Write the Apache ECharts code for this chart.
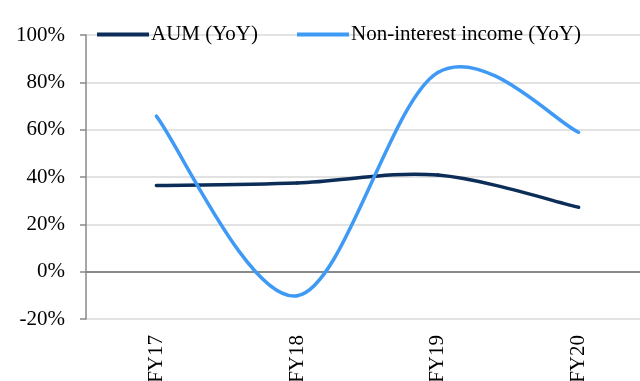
<!DOCTYPE html>
<html>
<head>
<meta charset="utf-8">
<script src="https://cdn.jsdelivr.net/npm/echarts@6/dist/echarts.min.js"></script>
<style>
  html, body { margin: 0; padding: 0; background: #fff; }
  #chart { width: 640px; height: 381px; }
</style>
</head>
<body>
<div id="chart"></div>
<script>
// Fiscal years on the category axis
const categories = ['FY17', 'FY18', 'FY19', 'FY20'];
// Year-on-year growth, in percent
const aumYoY = [36.4, 37.5, 40.8, 27.2];
const nonInterestYoY = [65.7, -10.2, 84.2, 58.9];
// Value axis range and step
const yMin = -20;
const yMax = 100;
const yStep = 20;

const font = '"Liberation Serif", "DejaVu Serif", serif';
const navy = '#0c2d58';
const sky = '#3f9af5';
const chart = echarts.init(document.getElementById('chart'));

// Smoothed line drawn as Catmull-Rom style cubic segments between
// neighbouring points; each data item draws the segment to the next one.
function smoothLineSeries(name, values, color) {
  return {
    name: name,
    type: 'custom',
    coordinateSystem: 'cartesian2d',
    xAxisIndex: 0,
    itemStyle: { color: color },
    encode: { x: 0, y: 1 },
    data: values.map((v, i) => [i, v]),
    renderItem: function (params, api) {
      const i = params.dataIndex;
      const n = values.length;
      if (i >= n - 1) return null;
      const pt = k => api.coord([Math.min(Math.max(k, 0), n - 1), values[Math.min(Math.max(k, 0), n - 1)]]);
      const p0 = pt(i - 1), p1 = pt(i), p2 = pt(i + 1), p3 = pt(i + 2);
      const t = 1 / 6;
      return {
        type: 'bezierCurve',
        shape: {
          x1: p1[0], y1: p1[1],
          x2: p2[0], y2: p2[1],
          cpx1: p1[0] + (p2[0] - p0[0]) * t,
          cpy1: p1[1] + (p2[1] - p0[1]) * t,
          cpx2: p2[0] - (p3[0] - p1[0]) * t,
          cpy2: p2[1] - (p3[1] - p1[1]) * t
        },
        style: { stroke: color, fill: null, lineWidth: 3.5, lineCap: 'round' }
      };
    }
  };
}

const legendBase = {
  top: 19,
  itemWidth: 52,
  itemHeight: 4,
  icon: 'rect',
  textStyle: { fontFamily: font, fontSize: 21, color: '#000', padding: [0, 0, 0, -3] }
};

chart.setOption({
  animation: false,
  textStyle: { fontFamily: font },
  grid: {
    left: 86, width: 563, top: 35, bottom: 62,
    containLabel: false,
    outerBoundsMode: 'none'
  },
  legend: [
    Object.assign({}, legendBase, { left: 92, data: ['AUM (YoY)'] }),
    Object.assign({}, legendBase, { left: 292, data: ['Non-interest income (YoY)'] })
  ],
  xAxis: [
    {
      type: 'category',
      data: categories,
      boundaryGap: true,
      position: 'bottom',
      axisLine: { show: false, onZero: false },
      axisTick: { show: false },
      axisLabel: { rotate: 90, margin: 16, fontFamily: font, fontSize: 21, color: '#000' }
    },
    {
      // zero baseline
      type: 'category',
      data: categories,
      position: 'bottom',
      axisLine: { show: true, onZero: true, lineStyle: { color: '#898989', width: 2 } },
      axisTick: { show: false },
      axisLabel: { show: false }
    }
  ],
  yAxis: {
    type: 'value',
    min: yMin,
    max: yMax,
    interval: yStep,
    axisLine: { show: true, lineStyle: { color: '#898989', width: 1.5 } },
    axisTick: { show: true, inside: false, length: 6, lineStyle: { color: '#898989', width: 1.5 } },
    axisLabel: {
      margin: 21,
      fontFamily: font,
      fontSize: 21,
      color: '#000',
      formatter: v => v + '%'
    },
    splitLine: { show: true, lineStyle: { color: '#d9d9d9', width: 1.5 } }
  },
  series: [
    smoothLineSeries('AUM (YoY)', aumYoY, navy),
    smoothLineSeries('Non-interest income (YoY)', nonInterestYoY, sky)
  ]
});
</script>
</body>
</html>
